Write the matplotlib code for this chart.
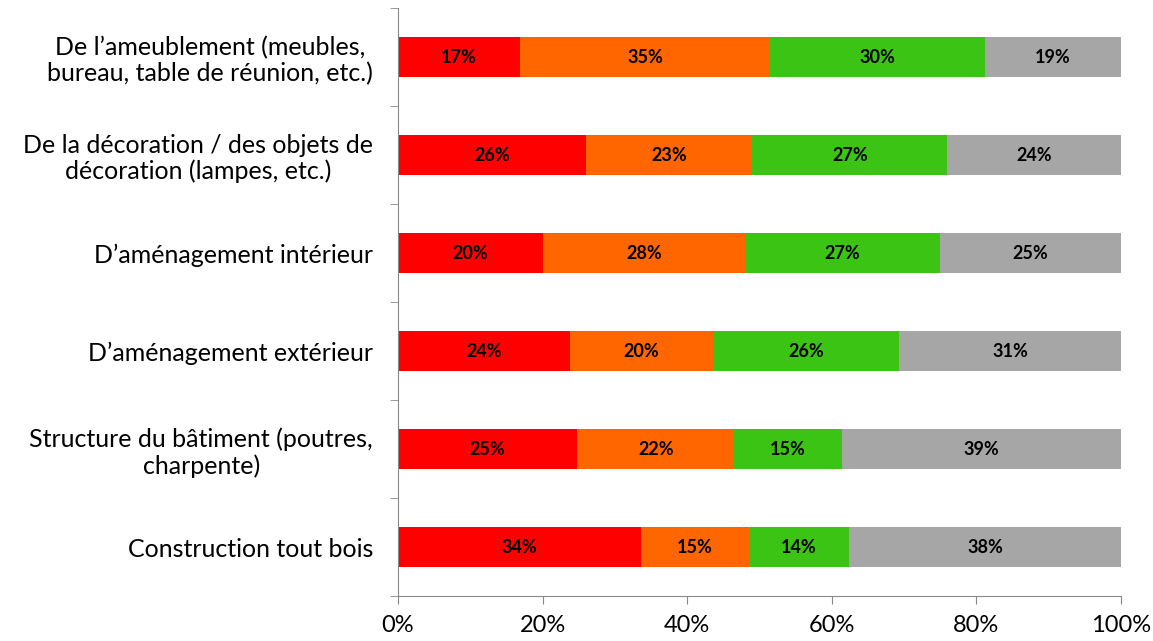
import numpy as np
import matplotlib.pyplot as plt

# categories (top to bottom)
categories = [
    "De l\u2019ameublement (meubles,\nbureau, table de réunion, etc.)",
    "De la décoration / des objets de\ndécoration (lampes, etc.)",
    "D\u2019aménagement intérieur",
    "D\u2019aménagement extérieur",
    "Structure du bâtiment (poutres,\ncharpente)",
    "Construction tout bois",
]
red_vals = [17, 26, 20, 24, 25, 34]
orange_vals = [35, 23, 28, 20, 22, 15]
green_vals = [30, 27, 27, 26, 15, 14]
gray_vals = [19, 24, 25, 31, 39, 38]

colors = ["#FF0000", "#FF6600", "#3BC414", "#A6A6A6"]
series = [red_vals, orange_vals, green_vals, gray_vals]

plt.rcParams['font.family'] = ['Lato', 'DejaVu Sans']

data = np.array(series, dtype=float)
shares = data / data.sum(axis=0) * 100

fig = plt.figure(figsize=(11.53, 6.41), dpi=100)
ax = fig.add_axes([0.3452, 0.0702, 0.6270, 0.9173])

y = np.arange(len(categories))[::-1]
left = np.zeros(len(categories))
for vals, share, c in zip(series, shares, colors):
    ax.barh(y, share, left=left, height=0.4, color=c, edgecolor='none')
    for yi, l, w, v in zip(y, left, share, vals):
        ax.text(l + w / 2, yi, f"{v}%", ha='center', va='center',
                fontsize=13, fontweight='bold', color='black')
    left += share

ax.set_xlim(0, 100)
ax.set_ylim(-0.5, len(categories) - 0.5)
ax.set_xticks(np.arange(0, 101, 20))
ax.set_xticklabels([f"{t}%" for t in range(0, 101, 20)], fontsize=17)
ax.set_yticks(y)
ax.set_yticklabels(categories, fontsize=18, ha='right', linespacing=1.15,
                   multialignment='center')
ax.tick_params(axis='y', length=0, pad=18)
ax.set_yticks(np.arange(-0.5, len(categories), 1), minor=True)
ax.tick_params(axis='y', which='minor', length=6, color='#888888')
ax.tick_params(axis='x', length=6, color='#888888', pad=8)

for s in ['top', 'right']:
    ax.spines[s].set_visible(False)
for s in ['left', 'bottom']:
    ax.spines[s].set_color('#888888')

fig.savefig("out.png", dpi=100)
